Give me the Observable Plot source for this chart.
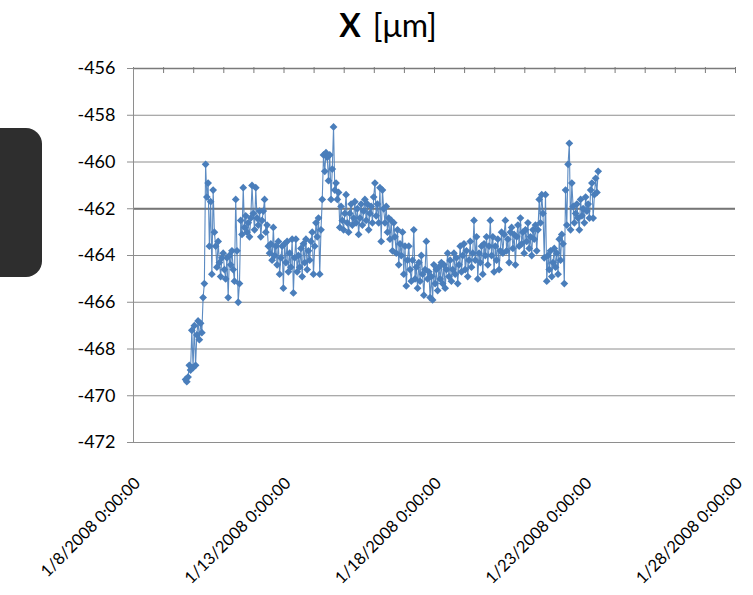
<!DOCTYPE html>
<html>
<head>
<meta charset="utf-8">
<script src="https://cdn.jsdelivr.net/npm/d3@7"></script>
<script src="https://cdn.jsdelivr.net/npm/@observablehq/plot@0.6"></script>
<style>
  html, body { margin: 0; padding: 0; background: #fff; }
  #wrap { position: relative; width: 753px; height: 595px; overflow: hidden; font-family: Lato, "Open Sans", sans-serif; }
  #title { height: 50px; line-height: 50px; text-align: center; font-size: 32px; color: #000; padding-left: 23px; box-sizing: border-box; word-spacing: 4px; }
  #title b { font-weight: 700; }
  #tab { position: absolute; left: -20px; top: 128px; width: 62px; height: 149px; border-radius: 16px; background: #2e2e2e; }
</style>
</head>
<body>
<div id="wrap">
  <div id="title"><b>X</b> [μm]</div>
  <div id="chart"></div>
  <div id="tab"></div>
</div>
<script>
// ---- data ----
const seriesStart = "2008-01-09T17:30:00Z"; // first sample
const sampleHours = 1;                       // sampling interval
const xValues = [
  // climb
  -469.3, -469.4, -469.2, -468.7, -468.9, -467.2, -468.8, -467.0, -468.7, -467.4,
  -466.8, -467.6, -466.9, -467.3, -465.8, -465.2, -460.1,
  // first jump
  -461.5, -460.9, -463.6, -461.7, -464.8, -461.2, -463.0, -463.6, -464.5, -463.4,
  -464.3, -464.9, -464.1, -463.9, -464.6, -465.0, -464.1, -465.8, -464.0, -464.4,
  -463.8, -464.6, -465.1, -461.6,
  -463.8, -466.0, -465.2, -462.5, -463.1, -461.1, -462.8, -462.3, -463.0, -462.6,
  -463.2, -462.4, -461.0, -462.2, -462.9, -461.1, -462.4, -462.7, -462.1, -463.2,
  -462.5, -462.1, -461.6, -463.0, -462.7, -463.6,
  -463.9, -463.5, -464.2, -462.8, -464.0, -463.6, -464.4, -463.4, -464.8, -464.1,
  -463.6, -465.4, -463.5, -464.3, -463.4, -464.7, -463.9, -464.5, -463.3, -465.6,
  -464.1, -463.3, -464.7, -464.0, -464.5, -463.7, -464.9, -463.5, -464.3, -463.3,
  -464.6, -463.8, -464.2, -463.4, -463.0, -464.8, -463.6, -462.6, -463.2, -462.4,
  // second jump
  -464.8, -462.9, -461.6, -459.7, -460.4, -459.6, -459.8, -460.8, -459.7, -461.6,
  -460.3, -458.5, -461.2, -460.9, -461.6, -461.3, -462.8,
  -461.9, -462.5, -462.9, -462.2, -461.4, -462.6, -463.0, -462.2, -461.8, -462.7,
  -462.4, -461.7, -462.6, -462.0, -463.1, -462.4, -461.8, -462.7, -462.1, -461.6,
  -462.5, -461.8, -462.9, -462.2, -461.9, -462.6, -461.5, -460.9, -462.3, -461.8,
  -462.6, -461.1, -463.4, -461.2, -462.0, -462.6, -461.9, -463.0, -462.4, -463.3,
  -462.5,
  // decline
  -463.8, -462.6, -463.2, -463.9, -462.9, -464.4, -463.5, -464.0, -463.0, -464.8,
  -463.6, -465.3, -464.2, -463.6, -464.6, -465.1,
  -464.2, -462.9, -465.0, -464.5, -465.4, -464.3, -465.1, -464.0, -464.8, -465.7,
  -464.6, -463.4, -465.0, -464.7, -465.8, -464.9, -465.9, -464.4, -465.2, -464.6,
  -465.5, -464.5, -465.0, -464.3, -465.2, -464.4, -465.4, -464.6, -463.9, -464.9,
  -464.2, -465.1, -464.6, -463.9, -464.8, -464.1, -465.2, -464.4, -463.6, -464.7,
  // slow rise
  -464.0, -463.5, -464.6, -463.8, -464.9, -464.2, -463.4, -464.5, -463.9, -462.5,
  -464.2, -463.2, -465.0, -463.9, -464.3, -463.6, -464.8, -463.5, -464.0, -463.2,
  -464.4, -463.6, -462.5, -464.0, -463.2, -464.7, -463.6, -464.2, -463.3, -464.6,
  -463.8, -463.0,
  -463.9, -463.1, -462.5, -463.8, -463.3, -464.3, -463.0, -462.8, -463.7, -463.1,
  -464.4, -463.2, -462.7, -463.6, -462.4, -463.5, -463.0, -463.9, -462.9, -463.4,
  -462.6, -463.7, -463.2, -464.0, -462.9, -463.3, -462.7, -463.8, -462.9,
  -461.6, -462.6, -461.4, -462.2, -464.1, -461.4,
  -465.1, -464.0, -464.6, -463.8, -464.9, -464.3, -463.7, -464.5, -463.9, -464.8,
  -463.3, -464.2, -463.1, -463.5, -465.2,
  // last jump
  -461.2, -462.7, -460.1, -459.2, -462.9, -460.9, -461.9, -462.6, -462.2, -461.8,
  -462.4, -462.9, -461.6, -462.3, -462.0, -462.6, -461.5, -462.1, -461.8, -462.4,
  -461.2, -460.9, -462.4, -461.4, -460.7, -461.3, -460.4
];
const yTicks = [-472, -470, -468, -466, -464, -462, -460, -458, -456];
const xTickDates = ["2008-01-08", "2008-01-13", "2008-01-18", "2008-01-23", "2008-01-28"];
const xTickLabels = ["1/8/2008 0:00:00", "1/13/2008 0:00:00", "1/18/2008 0:00:00", "1/23/2008 0:00:00", "1/28/2008 0:00:00"];

// ---- build ----
const t0 = new Date(seriesStart).getTime();
const data = xValues.map((v, i) => ({date: new Date(t0 + i * sampleHours * 3600e3), value: v}));
const xTicks = xTickDates.map(d => new Date(d + "T00:00:00Z"));
const xDomain = [xTicks[0], xTicks[xTicks.length - 1]];
const dayTicks = d3.utcDay.range(xDomain[0], d3.utcDay.offset(xDomain[1], 1));
const blue = "#4a7ebb";
const gridColor = "#8e8e8e";

const chart = Plot.plot({
  width: 753,
  height: 545,
  marginLeft: 133,
  marginRight: 18,
  marginTop: 18,
  marginBottom: 153,
  style: {fontFamily: "Lato, 'Open Sans', sans-serif", fontSize: "18px", color: "#000", background: "#fff", overflow: "visible"},
  x: {type: "utc", domain: xDomain, label: null},
  y: {domain: [-472, -456], label: null},
  marks: [
    Plot.gridY(yTicks, {stroke: gridColor, strokeOpacity: 1}),
    Plot.ruleY([-462], {stroke: "#767676", strokeWidth: 2}),
    Plot.ruleY([-456], {stroke: "#7a7a7a", strokeWidth: 1.5}),
    Plot.tickX(dayTicks, {stroke: "#7a7a7a", insetTop: -1, insetBottom: 369}),
    Plot.ruleX([xDomain[0]], {stroke: gridColor}),
    Plot.axisY({ticks: yTicks, tickSize: 6, tickPadding: 12, stroke: gridColor, tickFormat: d => String(d), fill: "#000", label: null}),
    Plot.axisX({ticks: xTicks, tickSize: 0, tickPadding: 38, tickRotate: -45, fontSize: 16.5, tickFormat: (d, i) => xTickLabels[i], fill: "#000", dx: 4, label: null}),
    Plot.line(data, {x: "date", y: "value", stroke: blue, strokeWidth: 1.1, strokeOpacity: 0.9}),
    Plot.dot(data, {x: "date", y: "value", symbol: "diamond2", r: 3.5, fill: blue, stroke: null})
  ]
});
document.getElementById("chart").appendChild(chart);
</script>
</body>
</html>
